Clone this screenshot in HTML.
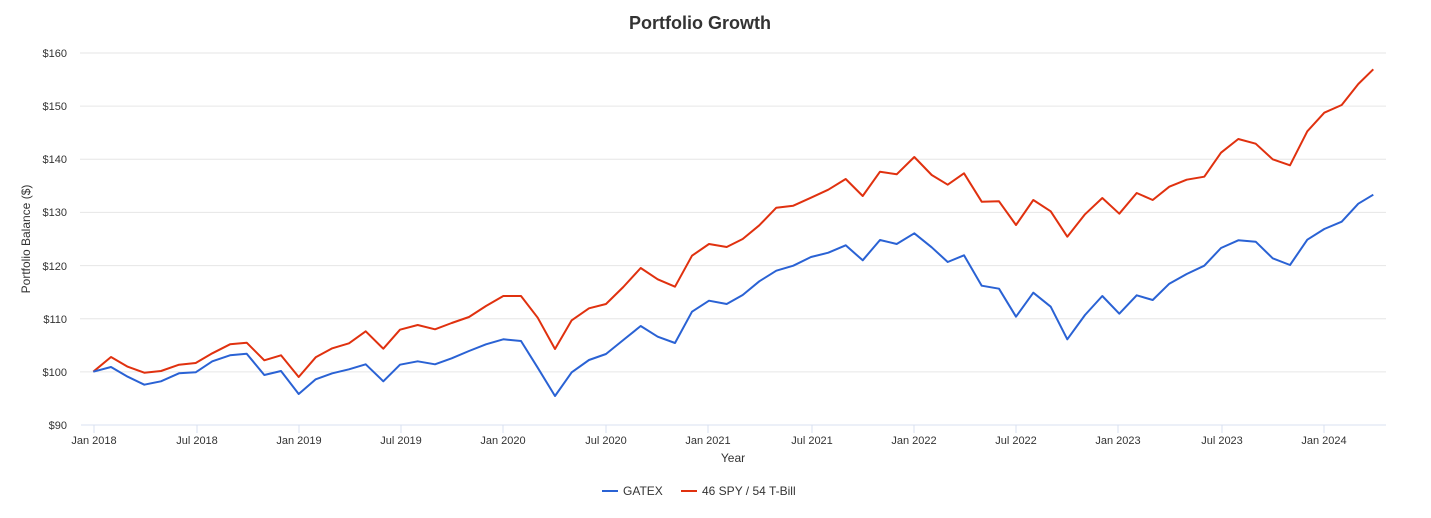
<!DOCTYPE html>
<html><head><meta charset="utf-8"><style>
body{margin:0;background:#fff}
</style></head><body>
<svg width="1431" height="513" xmlns="http://www.w3.org/2000/svg" font-family="Liberation Sans, Arial, sans-serif">
<rect width="1431" height="513" fill="#fff"/>
<text x="700" y="29" text-anchor="middle" font-size="18" font-weight="bold" fill="#333">Portfolio Growth</text>
<g stroke="#e6e6e6" stroke-width="1">
<line x1="80" x2="1386" y1="53" y2="53"/>
<line x1="80" x2="1386" y1="106.1" y2="106.1"/>
<line x1="80" x2="1386" y1="159.3" y2="159.3"/>
<line x1="80" x2="1386" y1="212.4" y2="212.4"/>
<line x1="80" x2="1386" y1="265.6" y2="265.6"/>
<line x1="80" x2="1386" y1="318.7" y2="318.7"/>
<line x1="80" x2="1386" y1="371.9" y2="371.9"/>
</g>
<line x1="81" x2="1386" y1="425" y2="425" stroke="#d8e0f0"/>
<g font-size="11" fill="#333" text-anchor="end">
<text x="67" y="57">$160</text>
<text x="67" y="110">$150</text>
<text x="67" y="163">$140</text>
<text x="67" y="216">$130</text>
<text x="67" y="270">$120</text>
<text x="67" y="323">$110</text>
<text x="67" y="376">$100</text>
<text x="67" y="429">$90</text>
</g>
<g stroke="#d8e0f0">
<line x1="94" x2="94" y1="425" y2="433"/><line x1="197" x2="197" y1="425" y2="433"/><line x1="299" x2="299" y1="425" y2="433"/><line x1="401" x2="401" y1="425" y2="433"/><line x1="503" x2="503" y1="425" y2="433"/><line x1="606" x2="606" y1="425" y2="433"/><line x1="708" x2="708" y1="425" y2="433"/><line x1="812" x2="812" y1="425" y2="433"/><line x1="914" x2="914" y1="425" y2="433"/><line x1="1016" x2="1016" y1="425" y2="433"/><line x1="1118" x2="1118" y1="425" y2="433"/><line x1="1222" x2="1222" y1="425" y2="433"/><line x1="1324" x2="1324" y1="425" y2="433"/>
</g>
<g font-size="11" fill="#333" text-anchor="middle">
<text x="94" y="444">Jan 2018</text><text x="197" y="444">Jul 2018</text><text x="299" y="444">Jan 2019</text><text x="401" y="444">Jul 2019</text><text x="503" y="444">Jan 2020</text><text x="606" y="444">Jul 2020</text><text x="708" y="444">Jan 2021</text><text x="812" y="444">Jul 2021</text><text x="914" y="444">Jan 2022</text><text x="1016" y="444">Jul 2022</text><text x="1118" y="444">Jan 2023</text><text x="1222" y="444">Jul 2023</text><text x="1324" y="444">Jan 2024</text>
</g>
<text transform="translate(30,239) rotate(-90)" text-anchor="middle" font-size="12" fill="#333">Portfolio Balance ($)</text>
<text x="733" y="462" text-anchor="middle" font-size="12" fill="#333">Year</text>
<polyline fill="none" stroke="#e0310f" stroke-width="2" stroke-linejoin="round" points="93.3,371.7 111,357 127.7,366.7 144.3,372.7 161,371 179,364.7 195.7,363 212.3,353.3 230,344.3 246.7,342.7 264.3,360.3 281,355.3 298.7,377 315.7,357.3 332.3,348.3 349,343.3 365.7,331.3 383.3,348.7 400,329.7 417.7,325 435,329.3 451.7,323 469,317 486,306 503.3,296 521,296 537.7,317.7 555,349 571.7,320.3 589,308.3 606,304 623.3,287 640.7,268 657.7,279.3 675,286.7 692,255.7 709,244 726.7,247 742.7,239 759.3,225.3 776.3,207.7 793.3,205.7 811,197.7 828.3,189.7 845.7,179 862.7,196 880,171.7 896.7,174.3 914.3,157 931.7,175 947.7,184.7 964,173.3 981.7,201.7 999,201.3 1016,225 1033.3,200 1050.7,211.3 1067.3,236.7 1085,214.3 1102.3,198 1119.3,213.7 1136.7,193 1152.7,200 1169.3,186.7 1186.7,179.7 1204.3,176.7 1221,152.7 1238.3,139 1255.7,143.7 1272.7,159.3 1290,165.3 1307.3,131.3 1324.3,112.7 1341.7,105 1358.3,84 1373.3,69.3"/>
<polyline fill="none" stroke="#2a62d4" stroke-width="2" stroke-linejoin="round" points="93.3,371.7 111,367 127.7,376.7 144.3,384.7 161,381.3 179,373.3 195.7,372.3 212.3,361.3 230,355.3 246.7,353.7 264.3,375 281,371 298.7,394 315.7,379.3 332.3,373.3 349,369.3 365.7,364.3 383.3,381.3 400,364.7 417.7,361.3 435,364.3 451.7,358.3 469,351 486,344.3 503.3,339.3 521,341 537.7,367.7 555,396 571.7,372.3 589,360 606,354 623.3,340 640.7,326 657.7,336.7 675,343 692,311.7 709,300.7 726.7,304 742.7,295 759.3,281.3 776.3,270.7 793.3,265.7 811,257 828.3,252.7 845.7,245.3 862.7,260.3 880,240 896.7,244 914.3,233.3 931.7,247.3 947.7,262 964,255.3 981.7,285.7 999,288.7 1016,316.7 1033.3,292.7 1050.7,306.7 1067.3,339.3 1085,315 1102.3,296 1119.3,313.7 1136.7,295.3 1152.7,300 1169.3,283.7 1186.7,274 1204.3,265.7 1221,248 1238.3,240.3 1255.7,241.7 1272.7,258.3 1290,265 1307.3,239.7 1324.3,229 1341.7,221.7 1358.3,203.7 1373.3,194.7"/>
<line x1="602" x2="618" y1="491" y2="491" stroke="#2a62d4" stroke-width="2"/>
<text x="623" y="495" font-size="12" fill="#333">GATEX</text>
<line x1="681" x2="697" y1="491" y2="491" stroke="#e0310f" stroke-width="2"/>
<text x="702" y="495" font-size="12" fill="#333">46 SPY / 54 T-Bill</text>
</svg>
</body></html>
